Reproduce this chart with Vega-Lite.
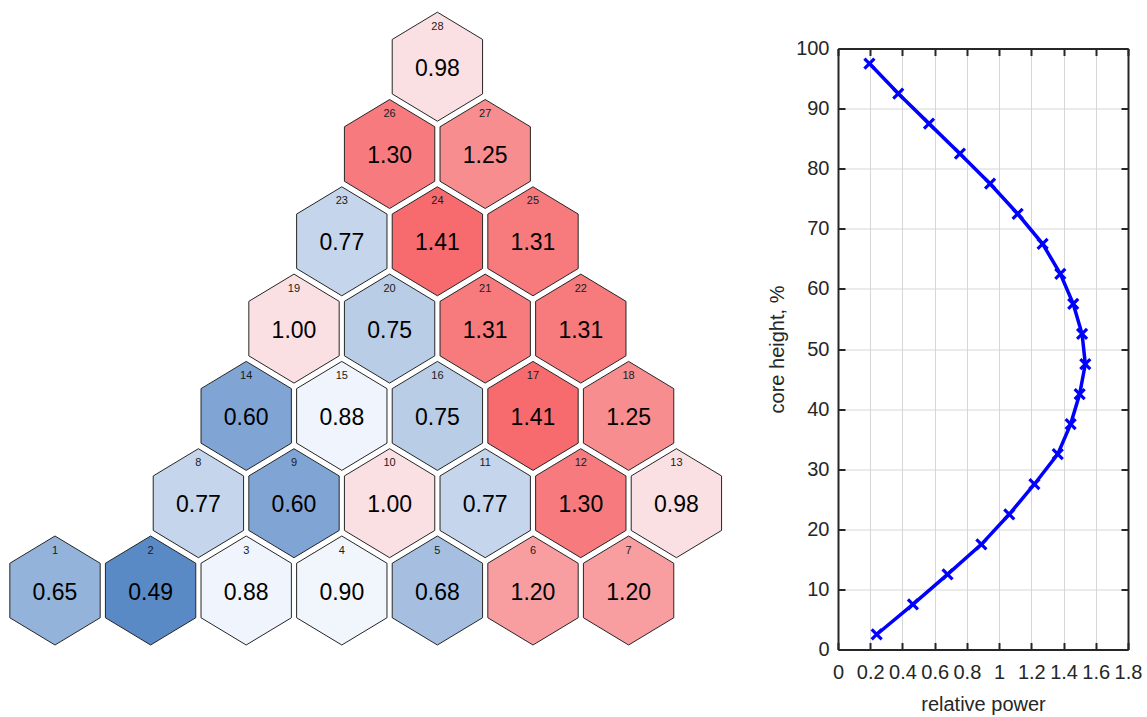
{
  "$schema": "https://vega.github.io/schema/vega-lite/v6.json",
  "background": "white",
  "padding": {"left": 0, "top": 9.5, "right": 5, "bottom": 0},
  "spacing": 118,
  "bounds": "flush",
  "config": {"view": {"stroke": null}, "font": "Liberation Sans"},
  "datasets": {
    "hex": [
      {"id": 1, "row": 0, "col": 0, "value": 0.65},
      {"id": 2, "row": 0, "col": 1, "value": 0.49},
      {"id": 3, "row": 0, "col": 2, "value": 0.88},
      {"id": 4, "row": 0, "col": 3, "value": 0.90},
      {"id": 5, "row": 0, "col": 4, "value": 0.68},
      {"id": 6, "row": 0, "col": 5, "value": 1.20},
      {"id": 7, "row": 0, "col": 6, "value": 1.20},
      {"id": 8, "row": 1, "col": 1.5, "value": 0.77},
      {"id": 9, "row": 1, "col": 2.5, "value": 0.60},
      {"id": 10, "row": 1, "col": 3.5, "value": 1.00},
      {"id": 11, "row": 1, "col": 4.5, "value": 0.77},
      {"id": 12, "row": 1, "col": 5.5, "value": 1.30},
      {"id": 13, "row": 1, "col": 6.5, "value": 0.98},
      {"id": 14, "row": 2, "col": 2, "value": 0.60},
      {"id": 15, "row": 2, "col": 3, "value": 0.88},
      {"id": 16, "row": 2, "col": 4, "value": 0.75},
      {"id": 17, "row": 2, "col": 5, "value": 1.41},
      {"id": 18, "row": 2, "col": 6, "value": 1.25},
      {"id": 19, "row": 3, "col": 2.5, "value": 1.00},
      {"id": 20, "row": 3, "col": 3.5, "value": 0.75},
      {"id": 21, "row": 3, "col": 4.5, "value": 1.31},
      {"id": 22, "row": 3, "col": 5.5, "value": 1.31},
      {"id": 23, "row": 4, "col": 3, "value": 0.77},
      {"id": 24, "row": 4, "col": 4, "value": 1.41},
      {"id": 25, "row": 4, "col": 5, "value": 1.31},
      {"id": 26, "row": 5, "col": 3.5, "value": 1.30},
      {"id": 27, "row": 5, "col": 4.5, "value": 1.25},
      {"id": 28, "row": 6, "col": 4, "value": 0.98}
    ],
    "profile": [
      {"height": 2.5, "power": 0.24},
      {"height": 7.5, "power": 0.465},
      {"height": 12.5, "power": 0.68},
      {"height": 17.5, "power": 0.89},
      {"height": 22.5, "power": 1.063},
      {"height": 27.5, "power": 1.219},
      {"height": 32.5, "power": 1.364},
      {"height": 37.5, "power": 1.444},
      {"height": 42.5, "power": 1.50},
      {"height": 47.5, "power": 1.535},
      {"height": 52.5, "power": 1.515},
      {"height": 57.5, "power": 1.46},
      {"height": 62.5, "power": 1.38},
      {"height": 67.5, "power": 1.27},
      {"height": 72.5, "power": 1.115},
      {"height": 77.5, "power": 0.944},
      {"height": 82.5, "power": 0.757},
      {"height": 87.5, "power": 0.565},
      {"height": 92.5, "power": 0.374},
      {"height": 97.5, "power": 0.195}
    ]
  },
  "hconcat": [
    {
      "width": 720,
      "height": 601,
      "data": {"name": "hex"},
      "encoding": {
        "x": {"field": "col", "type": "quantitative", "scale": {"domain": [-0.5753, 6.9561], "nice": false, "zero": false}, "axis": null},
        "y": {"field": "row", "type": "quantitative", "scale": {"domain": [-0.6758, 6.2085], "nice": false, "zero": false}, "axis": null}
      },
      "layer": [
        {
          "mark": {"type": "point", "shape": "M0,-1L0.829,-0.5L0.829,0.5L0,1L-0.829,0.5L-0.829,-0.5Z", "size": 11881, "filled": true, "stroke": "#262626", "strokeWidth": 1, "opacity": 1},
          "encoding": {
            "fill": {
              "field": "value", "type": "quantitative", "legend": null,
              "scale": {
                "domain": [0.49, 0.60, 0.65, 0.68, 0.75, 0.77, 0.88, 0.90, 0.98, 1.00, 1.20, 1.25, 1.30, 1.31, 1.41],
                "range": ["#5a8ac6", "#80a5d5", "#94b3da", "#a6bfe0", "#b9cde6", "#c5d5eb", "#f0f4fc", "#f1f5fc", "#fbe0e3", "#fbe0e3", "#f89ea1", "#f88d90", "#f77b7e", "#f77a7d", "#f76b6e"],
                "interpolate": "rgb"
              }
            }
          }
        },
        {
          "mark": {"type": "text", "fontSize": 23, "dy": 2, "color": "#000000", "baseline": "middle"},
          "encoding": {"text": {"field": "value", "type": "quantitative", "format": ".2f"}}
        },
        {
          "mark": {"type": "text", "fontSize": 11, "dy": -40, "color": "#1a1a1a", "baseline": "middle"},
          "encoding": {"text": {"field": "id", "type": "nominal"}}
        }
      ]
    },
    {
      "width": 290,
      "height": 601,
      "data": {"name": "profile"},
      "layer": [
        {
          "mark": {"type": "line", "color": "#0000ff", "strokeWidth": 3.5},
          "encoding": {
            "x": {
              "field": "power", "type": "quantitative",
              "scale": {"domain": [0, 1.8], "nice": false, "zero": false},
              "axis": {
                "orient": "bottom", "values": [0, 0.2, 0.4, 0.6, 0.8, 1, 1.2, 1.4, 1.6, 1.8], "format": "~g",
                "labelFontSize": 20, "labelColor": "#262626", "labelPadding": 20, "labelFlush": false, "labelOverlap": false,
                "tickSize": -7, "tickColor": "#262626", "tickWidth": 2,
                "domainColor": "#262626", "domainWidth": 2,
                "grid": true, "gridColor": "#d6d6d6", "gridWidth": 1,
                "title": "relative power", "titleFontSize": 20, "titleFontWeight": "normal", "titleColor": "#262626", "titlePadding": 12
              }
            },
            "y": {
              "field": "height", "type": "quantitative",
              "scale": {"domain": [0, 100], "nice": false, "zero": false},
              "axis": {
                "orient": "left", "values": [0, 10, 20, 30, 40, 50, 60, 70, 80, 90, 100],
                "labelFontSize": 20, "labelColor": "#262626", "labelPadding": 16, "labelFlush": false, "labelOverlap": false,
                "tickSize": -7, "tickColor": "#262626", "tickWidth": 2,
                "domainColor": "#262626", "domainWidth": 2,
                "grid": true, "gridColor": "#d6d6d6", "gridWidth": 1,
                "title": "core height, %", "titleFontSize": 20, "titleFontWeight": "normal", "titleColor": "#262626", "titlePadding": 8
              }
            },
            "order": {"field": "height", "type": "quantitative"}
          }
        },
        {
          "mark": {"type": "point", "shape": "M-1,-1L1,1M1,-1L-1,1", "size": 100, "filled": false, "color": "#0000ff", "strokeWidth": 3.2, "opacity": 1},
          "encoding": {
            "x": {
              "field": "power", "type": "quantitative",
              "scale": {"domain": [0, 1.8], "nice": false, "zero": false},
              "axis": {"orient": "top", "values": [0, 0.2, 0.4, 0.6, 0.8, 1, 1.2, 1.4, 1.6, 1.8], "labels": false, "title": null, "grid": false, "tickSize": -7, "tickColor": "#262626", "tickWidth": 2, "domainColor": "#262626", "domainWidth": 2}
            },
            "y": {
              "field": "height", "type": "quantitative",
              "scale": {"domain": [0, 100], "nice": false, "zero": false},
              "axis": {"orient": "right", "values": [0, 10, 20, 30, 40, 50, 60, 70, 80, 90, 100], "labels": false, "title": null, "grid": false, "tickSize": -7, "tickColor": "#262626", "tickWidth": 2, "domainColor": "#262626", "domainWidth": 2}
            }
          }
        }
      ],
      "resolve": {"axis": {"x": "independent", "y": "independent"}}
    }
  ]
}
